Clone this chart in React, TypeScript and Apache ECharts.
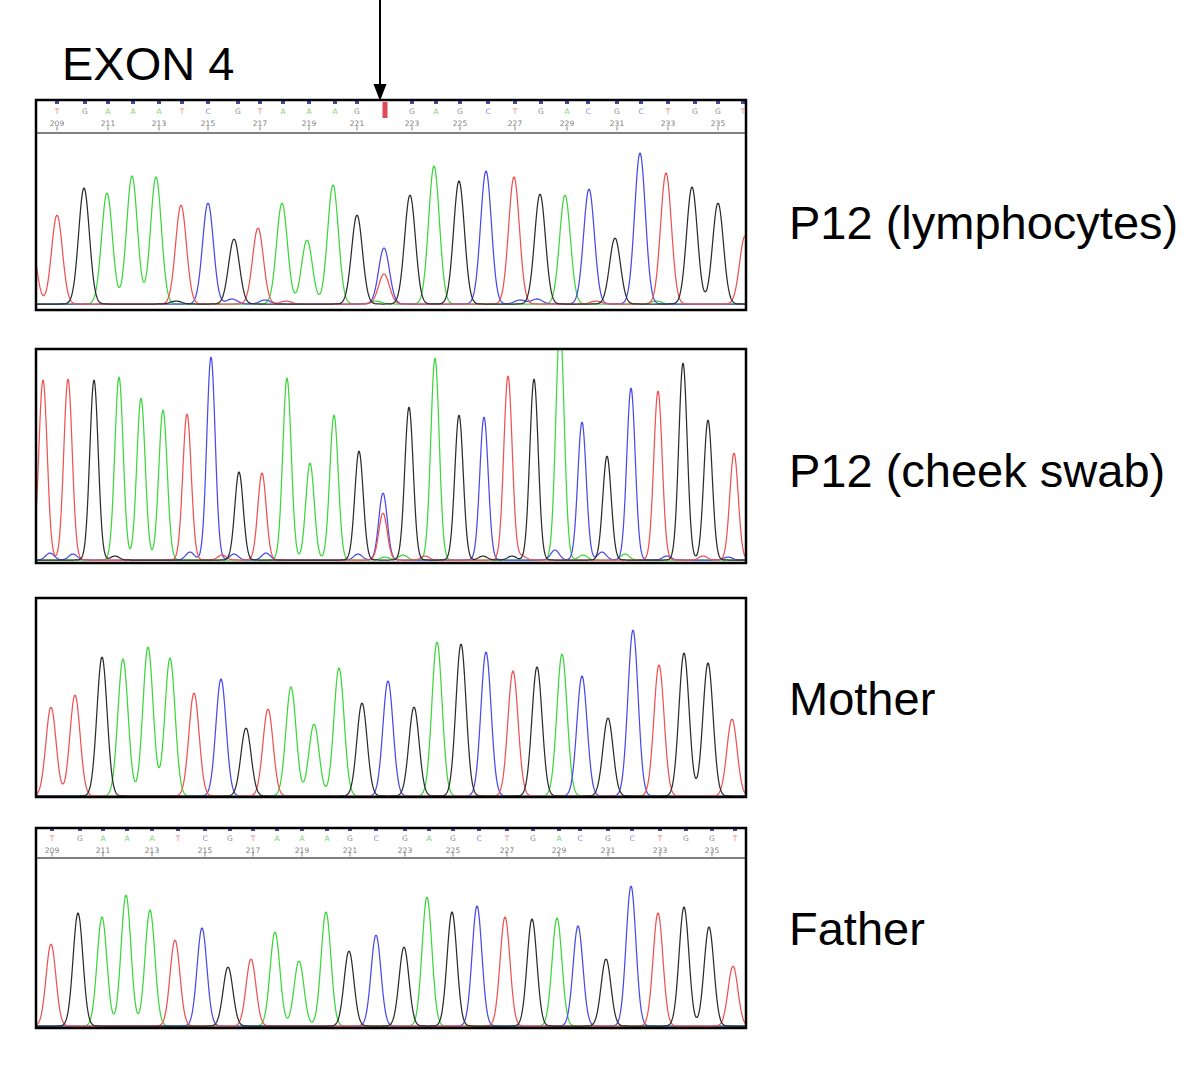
import React, { useEffect, useRef } from 'react';
import * as echarts from 'echarts';

// [scan position, base, signal height]
type Peak = [number, string, number];

const SCAN_MAX = 710;
const FIRST_BASE = 209;

const TITLE = 'EXON 4';
const PANEL_LABELS = ['P12 (lymphocytes)', 'P12 (cheek swab)', 'Mother', 'Father'];

// Panel 1: P12 (lymphocytes)
const p1Peaks: Peak[] = [
  [-5, 'T', 64], [21, 'T', 89], [48, 'G', 116], [71, 'A', 111], [96, 'A', 128], [120, 'A', 127],
  [145, 'T', 99], [172, 'C', 101], [198, 'G', 65], [222, 'T', 76], [246, 'A', 101], [271, 'A', 64],
  [297, 'A', 119], [321, 'G', 89], [348, 'C', 56], [348, 'T', 30], [374, 'G', 109], [398, 'A', 138],
  [423, 'G', 123], [450, 'C', 133], [478, 'T', 127], [504, 'G', 110], [529, 'A', 109], [553, 'C', 115],
  [579, 'G', 66], [604, 'C', 151], [630, 'T', 131], [656, 'G', 117], [682, 'G', 101], [709, 'T', 68],
];
const p1Noise: Peak[] = [
  [140, 'G', 3], [196, 'C', 5], [229, 'C', 4], [250, 'T', 3], [340, 'A', 3], [484, 'C', 4],
  [501, 'C', 5], [560, 'T', 3], [620, 'A', 3],
];

// Panel 2: P12 (cheek swab)
const p2Peaks: Peak[] = [
  [7, 'T', 180], [32, 'T', 181], [58, 'G', 180], [83, 'A', 183], [105, 'A', 162], [127, 'A', 150],
  [151, 'T', 146], [175, 'C', 203], [203, 'G', 88], [226, 'T', 87], [251, 'A', 182], [274, 'A', 97],
  [298, 'A', 145], [323, 'G', 109], [347, 'C', 67], [347, 'T', 47], [373, 'G', 153], [399, 'A', 202],
  [423, 'G', 145], [448, 'C', 143], [472, 'T', 184], [498, 'G', 181], [524, 'A', 235], [546, 'C', 138],
  [571, 'G', 104], [595, 'C', 172], [622, 'T', 169], [647, 'G', 197], [672, 'G', 140], [698, 'T', 107],
];
const p2Noise: Peak[] = [
  [14, 'C', 7], [37, 'C', 6], [79, 'G', 4], [154, 'C', 8], [186, 'T', 5], [198, 'C', 6], [230, 'C', 7],
  [322, 'C', 6], [349, 'A', 3], [367, 'A', 5], [389, 'T', 4], [447, 'G', 4], [476, 'G', 4], [486, 'T', 4],
  [519, 'C', 10], [547, 'A', 5], [566, 'C', 8], [589, 'A', 6], [631, 'C', 4], [667, 'T', 4], [692, 'C', 3],
];

// Panel 3: Mother
const p3Peaks: Peak[] = [
  [15, 'T', 89], [39, 'T', 101], [66, 'G', 139], [87, 'A', 137], [112, 'A', 149], [134, 'A', 138],
  [158, 'T', 103], [185, 'C', 117], [210, 'G', 68], [232, 'T', 87], [255, 'A', 109], [278, 'A', 72],
  [303, 'A', 128], [326, 'G', 93], [352, 'C', 115], [378, 'G', 89], [401, 'A', 154], [425, 'G', 152],
  [450, 'C', 144], [477, 'T', 125], [501, 'G', 129], [526, 'A', 142], [546, 'C', 120], [572, 'G', 78],
  [597, 'C', 166], [623, 'T', 131], [648, 'G', 143], [672, 'G', 133], [696, 'T', 77],
];

// Panel 4: Father
const p4Peaks: Peak[] = [
  [15, 'T', 82], [42, 'G', 113], [66, 'A', 109], [90, 'A', 131], [114, 'A', 116], [139, 'T', 86],
  [166, 'C', 98], [192, 'G', 59], [215, 'T', 67], [239, 'A', 94], [263, 'A', 65], [290, 'A', 114],
  [313, 'G', 75], [340, 'C', 91], [368, 'G', 79], [391, 'A', 129], [416, 'G', 114], [441, 'C', 120],
  [469, 'T', 109], [496, 'G', 107], [521, 'A', 108], [542, 'C', 100], [570, 'G', 67], [595, 'C', 140],
  [622, 'T', 113], [648, 'G', 119], [673, 'G', 99], [697, 'T', 60],
];

// Base calls shown in the headers (N = highlighted mutation call)
const p1Calls = 'TGAAATCGTAAAGNGAGCTGACGCTGGT'.split('');
const p1CallPos = [21, 49, 72, 97, 123, 146, 172, 202, 224, 247, 273, 299, 321, 349, 376, 400, 424, 452, 479, 505, 531, 552, 581, 605, 632, 659, 682, 707];
const p4Calls = 'TGAAATCGTAAAGCGAGCTGACGCTGGT'.split('');
const p4CallPos = [16, 44, 67, 91, 116, 142, 169, 194, 217, 241, 266, 291, 314, 340, 369, 393, 417, 443, 471, 497, 523, 544, 572, 596, 624, 650, 676, 699];

const TRACE_COLOR: Record<string, string> = { A: '#3dd63d', C: '#4a4ae6', G: '#2c2c2c', T: '#ef5252' };
const CALL_COLOR: Record<string, string> = { A: '#44c844', C: '#6262d6', G: '#666666', T: '#e86464' };
const DRAW_ORDER = ['A', 'C', 'T', 'G'];
const FONT = '"Liberation Sans", Arial, Helvetica, sans-serif';

const LEFT = 36;
const WIDTH = 710;

const TRACE_PANELS = [
  { peaks: [...p1Peaks, ...p1Noise], sigma: 5.4, top: 134, height: 176, yMin: -6, yMax: 170 },
  { peaks: [...p2Peaks, ...p2Noise], sigma: 4.2, top: 349, height: 214, yMin: -3, yMax: 211 },
  { peaks: p3Peaks, sigma: 5.1, top: 598, height: 199, yMin: -1, yMax: 198 },
  { peaks: p4Peaks, sigma: 4.9, top: 858, height: 170, yMin: -2, yMax: 168 },
];
const HEADER_PANELS = [
  { calls: p1Calls, pos: p1CallPos, top: 100, height: 33, markY: 30.5, letterY: 22, numY: 9.5, tickY: 4.5, mutY: 23 },
  { calls: p4Calls, pos: p4CallPos, top: 828, height: 30, markY: 28.5, letterY: 20, numY: 8, tickY: 3.5, mutY: 20 },
];
const BOXES = [
  { y: 100, h: 210 },
  { y: 349, h: 214 },
  { y: 598, h: 199 },
  { y: 828, h: 200 },
];
const LABEL_Y = [222, 470, 698, 928];

function buildTrace(peaks: Peak[], base: string, sigma: number): number[][] {
  const sel = peaks.filter((p) => p[1] === base);
  const pts: number[][] = [];
  for (let i = 0; i <= SCAN_MAX * 2; i++) {
    const x = i / 2;
    let y = 0;
    for (const [c, , h] of sel) {
      const d = x - c;
      y += h * Math.exp((-d * d) / (2 * sigma * sigma));
    }
    pts.push([x, Math.round(y * 100) / 100]);
  }
  return pts;
}

function buildOption(): any {
  const grid: any[] = [];
  const xAxis: any[] = [];
  const yAxis: any[] = [];
  const series: any[] = [];

  // header grids
  HEADER_PANELS.forEach((hp) => {
    const gi = grid.length;
    grid.push({ left: LEFT, width: WIDTH, top: hp.top, height: hp.height });
    xAxis.push({
      type: 'value', gridIndex: gi, min: 0, max: SCAN_MAX, position: 'bottom',
      axisLine: { show: true, onZero: false, lineStyle: { color: '#555', width: 1.5 } },
      axisTick: { show: false }, axisLabel: { show: false }, splitLine: { show: false },
    });
    yAxis.push({ type: 'value', gridIndex: gi, min: 0, max: hp.height, show: false });
    series.push({
      type: 'scatter', xAxisIndex: gi, yAxisIndex: gi, silent: true, symbol: 'rect', symbolSize: [4, 3],
      itemStyle: { color: '#1c1c8c' },
      data: hp.calls.map((b, i) => (b === 'N' ? null : [hp.pos[i], hp.markY])).filter((d) => d),
    });
    series.push({
      type: 'scatter', xAxisIndex: gi, yAxisIndex: gi, silent: true, symbol: 'rect', symbolSize: [5, 16],
      itemStyle: { color: '#d41f2c' },
      data: hp.calls.map((b, i) => (b === 'N' ? [hp.pos[i], hp.mutY] : null)).filter((d) => d),
    });
    series.push({
      type: 'scatter', xAxisIndex: gi, yAxisIndex: gi, silent: true, symbolSize: 0,
      label: { show: true, position: 'inside', formatter: '{b}', fontSize: 7.5, fontFamily: 'DejaVu Sans' },
      data: hp.calls
        .map((b, i) => (b === 'N' ? null : { name: b, value: [hp.pos[i], hp.letterY], label: { color: CALL_COLOR[b] } }))
        .filter((d) => d),
    });
    const numIdx = hp.calls.map((_, i) => i).filter((i) => i % 2 === 0);
    series.push({
      type: 'scatter', xAxisIndex: gi, yAxisIndex: gi, silent: true, symbol: 'rect', symbolSize: [1, 4],
      itemStyle: { color: '#666' },
      data: numIdx.map((i) => [hp.pos[i], hp.tickY]),
    });
    series.push({
      type: 'scatter', xAxisIndex: gi, yAxisIndex: gi, silent: true, symbolSize: 0,
      label: { show: true, position: 'inside', formatter: '{b}', fontSize: 7.5, color: '#555', fontFamily: 'DejaVu Sans' },
      data: numIdx.map((i) => ({ name: String(FIRST_BASE + i), value: [hp.pos[i], hp.numY] })),
    });
  });

  // trace grids
  TRACE_PANELS.forEach((tp) => {
    const gi = grid.length;
    grid.push({ left: LEFT, width: WIDTH, top: tp.top, height: tp.height });
    xAxis.push({ type: 'value', gridIndex: gi, min: 0, max: SCAN_MAX, show: false });
    yAxis.push({ type: 'value', gridIndex: gi, min: tp.yMin, max: tp.yMax, show: false });
    DRAW_ORDER.forEach((b) => {
      series.push({
        type: 'line', xAxisIndex: gi, yAxisIndex: gi, silent: true, showSymbol: false, symbol: 'none',
        clip: true, lineStyle: { color: TRACE_COLOR[b], width: 1.25 },
        data: buildTrace(tp.peaks, b, tp.sigma),
      });
    });
  });

  const graphic: any[] = [];
  BOXES.forEach((bx) => {
    graphic.push({
      type: 'rect', z: 100, silent: true,
      shape: { x: LEFT, y: bx.y, width: WIDTH, height: bx.h },
      style: { fill: 'none', stroke: '#000', lineWidth: 2.5 },
    });
  });
  PANEL_LABELS.forEach((t, i) => {
    graphic.push({
      type: 'text', x: 789, y: LABEL_Y[i], silent: true,
      style: { text: t, fontSize: 47, fontFamily: FONT, fill: '#000', verticalAlign: 'middle', align: 'left' },
    });
  });
  graphic.push({
    type: 'text', x: 62, y: 63, silent: true,
    style: { text: TITLE, fontSize: 47, fontFamily: FONT, fill: '#000', verticalAlign: 'middle', align: 'left' },
  });
  graphic.push({
    type: 'line', silent: true, z: 100,
    shape: { x1: 380, y1: 0, x2: 380, y2: 88 },
    style: { stroke: '#000', lineWidth: 2 },
  });
  graphic.push({
    type: 'polygon', silent: true, z: 100,
    shape: { points: [[373.5, 84], [386.5, 84], [380, 101]] },
    style: { fill: '#000' },
  });

  return { animation: false, backgroundColor: '#fff', grid, xAxis, yAxis, series, graphic };
}

export default function App() {
  const ref = useRef<HTMLDivElement>(null);
  useEffect(() => {
    if (!ref.current) return;
    const chart = echarts.init(ref.current, undefined, { renderer: 'svg' });
    chart.setOption(buildOption());
    return () => chart.dispose();
  }, []);
  return <div ref={ref} style={{ position: 'absolute', left: 0, top: 0, width: 1200, height: 1066 }} />;
}
